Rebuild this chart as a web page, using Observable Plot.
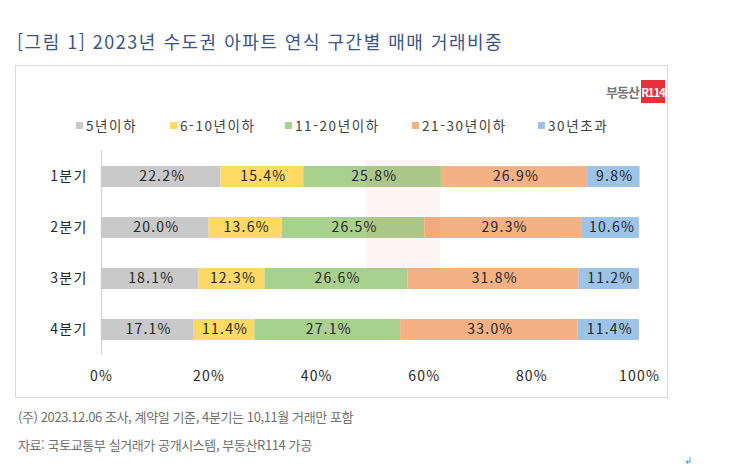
<!DOCTYPE html>
<html lang="ko">
<head>
<meta charset="utf-8">
<script src="https://cdn.jsdelivr.net/npm/d3@7"></script>
<script src="https://cdn.jsdelivr.net/npm/@observablehq/plot@0.6"></script>
<style>
  html, body { margin: 0; padding: 0; background: #fff; }
  body { width: 746px; height: 466px; position: relative; overflow: hidden;
         font-family: "Noto Sans CJK KR", "Noto Sans", sans-serif; }
  .abs { position: absolute; white-space: nowrap; }
  #title { left: 17px; top: 28px; font-size: 18px; color: #3a5584; letter-spacing: 1.5px; }
  #frame { left: 15px; top: 65px; width: 651px; height: 331px; border: 1px solid #d9d9d9; }
  #chart { position: absolute; left: 0; top: 0; }
  #legend { left: 0; top: 115px; width: 746px; height: 22px; font-size: 13.5px; color: #404040; }
  #legend .item { position: absolute; top: 0; display: flex; align-items: center; letter-spacing: 1.6px; }
  #legend .sw { width: 7px; height: 7px; margin-right: 3px; margin-top: 1px; }
  #logo { left: 606px; top: 80px; display: flex; align-items: center; }
  #logo .t { font-size: 13px; font-weight: bold; color: #777; margin-right: 2px; letter-spacing: -1px; }
  #logo .r { background: #e8303a; color: #fff; font-weight: bold; font-size: 11.5px; width: 24px; height: 23px;
             display: flex; align-items: center; justify-content: center; letter-spacing: -1.2px; }
  #wm { left: 366px; top: 160px; width: 74px; height: 110px; background: #e8303a; opacity: 0.05; pointer-events: none; }
  .note { left: 18px; font-size: 13px; color: #707070; letter-spacing: -0.4px; }
  #n1 { top: 407px; }
  #n2 { top: 435px; }
  #mark { left: 684px; top: 452px; font-size: 10px; color: #5b9bd5; }
  #chart svg text { letter-spacing: 1.2px; }
</style>
</head>
<body>
<div id="title" class="abs">[그림 1] 2023년 수도권 아파트 연식 구간별 매매 거래비중</div>
<div id="frame" class="abs"></div>
<div id="chart"></div>
<div id="wm" class="abs"></div>
<div id="logo" class="abs"><span class="t">부동산</span><span class="r">R114</span></div>
<div id="legend" class="abs"></div>
<div id="n1" class="abs note">(주) 2023.12.06 조사, 계약일 기준, 4분기는 10,11월 거래만 포함</div>
<div id="n2" class="abs note">자료: 국토교통부 실거래가 공개시스템, 부동산R114 가공</div>
<div id="mark" class="abs">↲</div>
<script>
const quarters = ["1분기", "2분기", "3분기", "4분기"];
const categories = ["5년이하", "6-10년이하", "11-20년이하", "21-30년이하", "30년초과"];
const colors = ["#c9c9c9", "#ffd966", "#a9d18e", "#f4b183", "#9dc3e6"];
const v5 = [22.2, 20.0, 18.1, 17.1];
const v6to10 = [15.4, 13.6, 12.3, 11.4];
const v11to20 = [25.8, 26.5, 26.6, 27.1];
const v21to30 = [26.9, 29.3, 31.8, 33.0];
const v30plus = [9.8, 10.6, 11.2, 11.4];
const xTicks = [0, 20, 40, 60, 80, 100];
const legendLeft = [76, 170, 285, 412, 538];

const series = [v5, v6to10, v11to20, v21to30, v30plus];
const data = [];
quarters.forEach((q, i) => {
  categories.forEach((c, j) => data.push({q, cat: c, value: series[j][i]}));
});

const legend = document.getElementById("legend");
categories.forEach((c, j) => {
  const it = document.createElement("div");
  it.className = "item";
  it.style.left = legendLeft[j] + "px";
  it.innerHTML = `<span class="sw" style="background:${colors[j]}"></span><span>${c}</span>`;
  legend.appendChild(it);
});

const chart = Plot.plot({
  width: 746,
  height: 466,
  marginLeft: 101,
  marginRight: 107,
  marginTop: 150,
  marginBottom: 111,
  style: { fontFamily: '"Noto Sans CJK KR", "Noto Sans", sans-serif', fontSize: "14px", color: "#262626", background: "transparent" },
  x: { domain: [0, 100], ticks: xTicks, tickFormat: d => d + "%", tickSize: 0, tickPadding: 16, label: null },
  y: { domain: quarters, paddingInner: 0.59, paddingOuter: 0.295, tickSize: 0, tickPadding: 14, label: null },
  color: { domain: categories, range: colors },
  marks: [
    Plot.ruleX([0], { stroke: "#d9d9d9", strokeWidth: 1.5 }),
    Plot.barX(data, Plot.stackX({ x: "value", y: "q", fill: "cat", order: categories, inset: 0 })),
    Plot.text(data, Plot.stackX({ x: "value", y: "q", z: "cat", order: categories,
      text: d => d.value.toFixed(1) + "%", fill: "#262626", fontSize: 14, dx: 1 })),
    Plot.axisX({ ticks: xTicks, tickFormat: d => d + "%", tickSize: 0, tickPadding: 16, fontSize: 14, fill: "#262626" }),
    Plot.axisY({ tickSize: 0, tickPadding: 14, fontSize: 14, fill: "#262626" })
  ]
});
document.getElementById("chart").appendChild(chart);
</script>
</body>
</html>
